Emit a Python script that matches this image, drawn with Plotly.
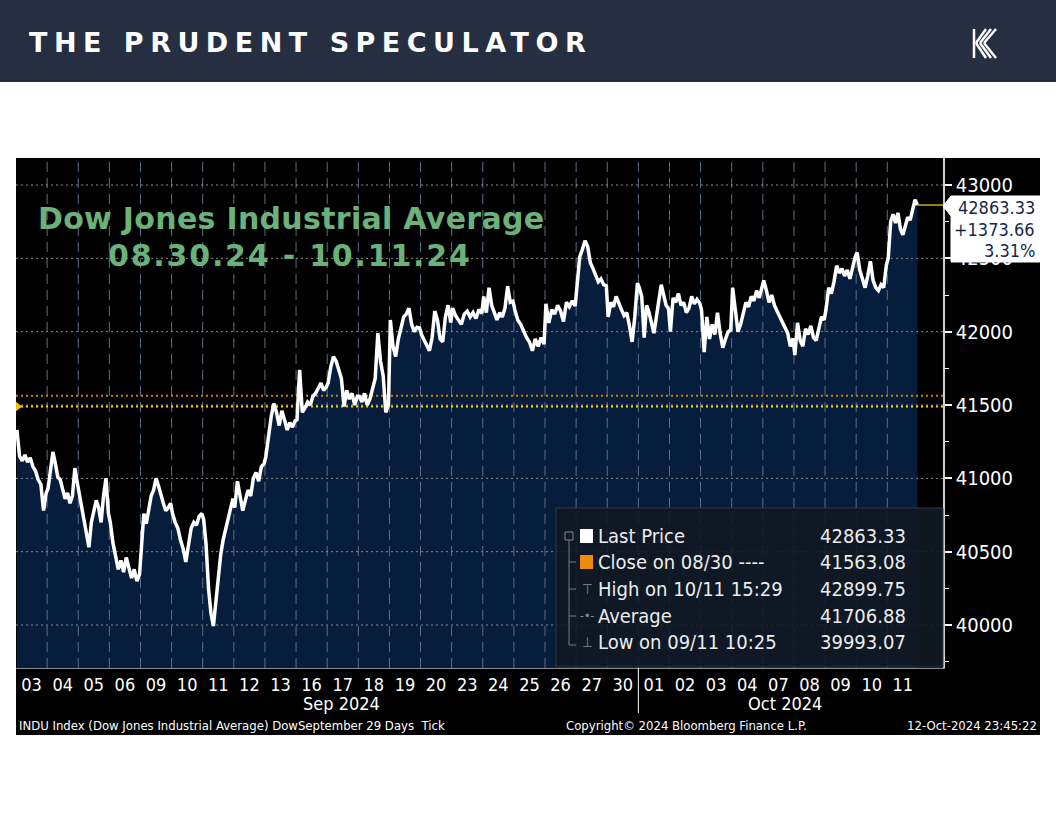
import plotly.graph_objects as go

W, H = 1056, 816

# ---------------- data ----------------
days = ["03", "04", "05", "06", "09", "10", "11", "12", "13", "16", "17", "18", "19", "20",
        "23", "24", "25", "26", "27", "30", "01", "02", "03", "04", "07", "08", "09", "10", "11"]
months = ["Sep 2024", "Oct 2024"]

intraday = [
    [41330, 41150, 41120, 41160, 41110, 41140, 41080, 41050, 40990, 40960, 40780, 40900],
    [40930, 41060, 41180, 41100, 41010, 40990, 40920, 40860, 40900, 40830, 40880, 41070, 40970],
    [40900, 40780, 40700, 40600, 40530, 40700, 40780, 40850, 40800, 40700, 40880, 41000, 40760],
    [40700, 40560, 40470, 40380, 40440, 40360, 40460, 40400, 40320, 40380, 40300, 40345],
    [40500, 40760, 40690, 40800, 40880, 40920, 41000, 40950, 40880, 40830, 40780, 40800, 40830],
    [40760, 40700, 40660, 40580, 40520, 40430, 40560, 40660, 40700, 40680, 40740, 40760],
    [40720, 40550, 40250, 40080, 39993.07, 40150, 40330, 40480, 40580, 40650, 40700, 40780, 40861],
    [40800, 40980, 40880, 40780, 40850, 40920, 40880, 41000, 41040, 40980, 41080, 41097],
    [41150, 41300, 41420, 41510, 41450, 41360, 41460, 41400, 41330, 41380, 41350, 41393],
    [41400, 41740, 41450, 41480, 41520, 41500, 41560, 41580, 41620, 41650, 41600, 41622],
    [41650, 41760, 41830, 41800, 41740, 41680, 41490, 41600, 41540, 41580, 41500, 41560],
    [41560, 41520, 41580, 41500, 41540, 41600, 41680, 41990, 41800, 41700, 41450, 41503],
    [42080, 41900, 41830, 41950, 42040, 42100, 42120, 42160, 42050, 42000, 42030, 42025],
    [41980, 41940, 41900, 41870, 41960, 42140, 42080, 41950, 41930, 42100, 42180, 42063],
    [42160, 42110, 42080, 42050, 42120, 42140, 42100, 42130, 42090, 42150, 42125],
    [42240, 42130, 42300, 42180, 42120, 42080, 42130, 42100, 42160, 42310, 42200, 42208],
    [42150, 42080, 42050, 42000, 41960, 41930, 41870, 41950, 41900, 41960, 41915],
    [42190, 42060, 42150, 42120, 42180, 42140, 42070, 42200, 42170, 42210, 42175],
    [42300, 42510, 42560, 42620, 42580, 42470, 42430, 42380, 42340, 42360, 42320, 42313],
    [42100, 42200, 42170, 42240, 42190, 42150, 42110, 42130, 42040, 41930, 42100, 42330],
    [42300, 42240, 41960, 42180, 42130, 42060, 41990, 42100, 42200, 42320, 42250, 42180, 42156],
    [42000, 42230, 42200, 42260, 42180, 42200, 42130, 42160, 42240, 42190, 42220, 42196],
    [42150, 41860, 42100, 41950, 42050, 41980, 42130, 41990, 41890, 41950, 42000, 42011],
    [42300, 42150, 42000, 42050, 42140, 42200, 42170, 42240, 42210, 42280, 42230, 42300],
    [42350, 42280, 42200, 42250, 42180, 42140, 42100, 42060, 42030, 41990, 41900, 41954],
    [41840, 42060, 41940, 41900, 42020, 41980, 42040, 41960, 41940, 42020, 42100, 42080],
    [42150, 42300, 42260, 42340, 42450, 42400, 42430, 42380, 42420, 42360, 42450, 42512],
    [42540, 42420, 42360, 42300, 42380, 42480, 42350, 42300, 42280, 42320, 42300, 42454],
    [42500, 42750, 42800, 42740, 42810, 42700, 42660, 42720, 42780, 42760, 42840, 42899.75, 42863.33],
]

prior_close = 41563.08
change_base = 41489.67
last_price = 42863.33
net_change = 1373.66
pct_change = 3.31
y_ticks = [40000, 40500, 41000, 41500, 42000, 42500, 43000]
y_minor = [39750, 40250, 40750, 41250, 41750, 42250, 42750]
legend_labels = ["Last Price", "Close on 08/30 ----", "High on 10/11 15:29", "Average", "Low on 09/11 10:25"]
legend_values = [42863.33, 41563.08, 42899.75, 41706.88, 39993.07]

# ---------------- helpers ----------------
def px(x):
    return x / W

def py(y):
    return 1 - y / H

COND = "DejaVu Sans Condensed, DejaVu Sans, sans-serif"
Y_MIN, Y_MAX = 39707, 43184
X_END = 29.79

xs, ys = [], []
for k, vals in enumerate(intraday):
    n = len(vals)
    for i, v in enumerate(vals):
        xs.append(k + 0.03 + 0.94 * i / (n - 1))
        ys.append(v)

fig = go.Figure()

# area fill
fig.add_trace(go.Scatter(x=xs, y=ys, mode="lines", fill="tozeroy", fillcolor="#061d3b",
                         line=dict(width=0, color="#061d3b"), hoverinfo="skip", showlegend=False))

# vertical dashed grid (day boundaries)
gx, gy = [], []
for k in range(1, len(days)):
    gx += [k, k, None]
    gy += [Y_MIN, Y_MAX, None]
fig.add_trace(go.Scatter(x=gx, y=gy, mode="lines", line=dict(color="#5d6f8b", width=1, dash="10px,6px"),
                         hoverinfo="skip", showlegend=False))
# horizontal dotted grid
hx, hy = [], []
for t in y_ticks:
    hx += [0, X_END, None]
    hy += [t, t, None]
fig.add_trace(go.Scatter(x=hx, y=hy, mode="lines", line=dict(color="#8c8c8c", width=1, dash="2px,3px"),
                         hoverinfo="skip", showlegend=False))

# reference lines
fig.add_trace(go.Scatter(x=[0, X_END], y=[prior_close, prior_close], mode="lines",
                         line=dict(color="#d47c00", width=2, dash="2px,3px"), hoverinfo="skip", showlegend=False))
fig.add_trace(go.Scatter(x=[0, X_END], y=[change_base, change_base], mode="lines",
                         line=dict(color="#f5d400", width=2, dash="2px,3px"), hoverinfo="skip", showlegend=False))
fig.add_trace(go.Scatter(x=[0.05], y=[change_base], mode="markers",
                         marker=dict(symbol="triangle-right", color="#f2c400", size=9), hoverinfo="skip", showlegend=False))

# price line
fig.add_trace(go.Scatter(x=xs, y=ys, mode="lines", line=dict(color="white", width=3.5),
                         hoverinfo="skip", showlegend=False))
# last price connector
fig.add_trace(go.Scatter(x=[xs[-1], X_END], y=[last_price, last_price], mode="lines",
                         line=dict(color="#d9a521", width=1.5), hoverinfo="skip", showlegend=False))

shapes = []
# header bar
shapes.append(dict(type="rect", xref="paper", yref="paper", x0=0, x1=1, y0=py(82), y1=1,
                   fillcolor="#262e42", line=dict(width=0), layer="below"))
# black chart background
shapes.append(dict(type="rect", xref="paper", yref="paper", x0=px(16), x1=px(1040), y0=py(735), y1=py(158),
                   fillcolor="black", line=dict(width=0), layer="below"))
# logo (approximate K mark)
for i in range(3):
    shapes.append(dict(type="line", xref="paper", yref="paper",
                       x0=px(986 + 5 * i), y0=py(29), x1=px(976 + 4 * i), y1=py(43),
                       line=dict(color="white", width=2.5)))
    shapes.append(dict(type="line", xref="paper", yref="paper",
                       x0=px(976 + 4 * i), y0=py(43), x1=px(986 + 5 * i), y1=py(58),
                       line=dict(color="white", width=2.5)))
shapes.append(dict(type="line", xref="paper", yref="paper", x0=px(974), y0=py(29), x1=px(974), y1=py(58),
                   line=dict(color="white", width=2.5)))

# month separator below axis
shapes.append(dict(type="line", xref="x", yref="paper", x0=20, x1=20, y0=py(668), y1=py(713),
                   line=dict(color="white", width=1)))

# legend box
shapes.append(dict(type="rect", xref="paper", yref="paper", x0=px(556), x1=px(943), y0=py(667), y1=py(508),
                   fillcolor="rgba(17,25,36,0.9)", line=dict(color="#2e3846", width=1), layer="above"))
# tree lines
shapes.append(dict(type="line", xref="paper", yref="paper", x0=px(569), x1=px(569), y0=py(540), y1=py(645),
                   line=dict(color="#7a7a7a", width=1), layer="above"))
for ry in [562, 589, 616, 645]:
    shapes.append(dict(type="line", xref="paper", yref="paper", x0=px(569), x1=px(576), y0=py(ry), y1=py(ry),
                       line=dict(color="#7a7a7a", width=1), layer="above"))
shapes.append(dict(type="rect", xref="paper", yref="paper", x0=px(565), x1=px(573), y0=py(540), y1=py(532),
                   fillcolor="rgba(0,0,0,0)", line=dict(color="#8a8a8a", width=1), layer="above"))
shapes.append(dict(type="rect", xref="paper", yref="paper", x0=px(580), x1=px(593), y0=py(543), y1=py(529),
                   fillcolor="white", line=dict(width=0), layer="above"))
shapes.append(dict(type="rect", xref="paper", yref="paper", x0=px(580), x1=px(593), y0=py(569), y1=py(555),
                   fillcolor="#ee8a0c", line=dict(width=0), layer="above"))

# price box with pointer
pts = [(943, 206), (951, 196), (1040, 196), (1040, 262), (951, 262), (951, 216)]
path = "M " + " L ".join(f"{px(a):.5f},{py(b):.5f}" for a, b in pts) + " Z"
shapes.append(dict(type="path", xref="paper", yref="paper", path=path, fillcolor="white",
                   line=dict(color="white", width=1), layer="above"))

annotations = []
def ann(text, x, y, size, color="white", xanchor="left", family=COND, **kw):
    annotations.append(dict(text=text, x=px(x), y=py(y), xref="paper", yref="paper", showarrow=False,
                            xanchor=xanchor, yanchor="middle", font=dict(size=size, color=color, family=family), **kw))

ann('<b><span style="letter-spacing:6.5px">THE PRUDENT SPECULATOR</span></b>', 27, 42, 27,
    family="DejaVu Sans, sans-serif")
ann('<b><span style="letter-spacing:0.3px">Dow Jones Industrial Average</span></b>', 36, 219, 30,
    color="#6bb27a", family="DejaVu Sans, sans-serif")
ann('<b><span style="letter-spacing:1.8px">08.30.24 - 10.11.24</span></b>', 106, 255, 30,
    color="#6bb27a", family="DejaVu Sans, sans-serif")

rows = [536, 562, 589, 616, 642]
for lab, val, ry in zip(legend_labels, legend_values, rows):
    ann(lab, 596, ry, 20, color="#ececec")
    ann(f"{val:.2f}", 908, ry, 20, color="#ececec", xanchor="right")
ann("⊤", 587, 589, 14, color="#8a8a8a", xanchor="center")
ann("-•-", 587, 616, 12, color="#8a8a8a", xanchor="center")
ann("⊥", 587, 642, 14, color="#8a8a8a", xanchor="center")

ann(f"{last_price:.2f}", 1037, 207, 18, color="#13294b", xanchor="right")
ann(f"+{net_change:.2f}", 1037, 229, 18, color="#13294b", xanchor="right")
ann(f"{pct_change:.2f}%", 1037, 250, 18, color="#13294b", xanchor="right")

ann(months[0], 341, 703, 18, xanchor="center")
ann(months[1], 785, 703, 18, xanchor="center")
ann("INDU Index (Dow Jones Industrial Average) DowSeptember 29 Days  Tick", 17, 725, 13)
ann("Copyright© 2024 Bloomberg Finance L.P.", 564, 725, 13)
ann("12-Oct-2024 23:45:22", 1039, 725, 13, xanchor="right")

fig.update_layout(
    width=W, height=H, margin=dict(l=0, r=0, t=0, b=0),
    paper_bgcolor="white", plot_bgcolor="black",
    shapes=shapes, annotations=annotations, showlegend=False,
    xaxis=dict(domain=[px(16), px(943)], range=[0, X_END], showgrid=False, zeroline=False,
               tickmode="array", tickvals=[k + 0.5 for k in range(len(days))], ticktext=days,
               ticks="", showline=True, linecolor="#8a8a8a", linewidth=1,
               tickfont=dict(size=18, color="white", family=COND), automargin=False, fixedrange=True),
    yaxis=dict(domain=[py(668), py(158)], range=[Y_MIN, Y_MAX], side="right", showgrid=False, zeroline=False,
               tickmode="array", tickvals=y_ticks, ticktext=[str(t) for t in y_ticks],
               ticks="outside", ticklen=7, tickwidth=2, tickcolor="white",
               showline=True, linecolor="#d0d0d0", linewidth=1.5,
               minor=dict(tickvals=y_minor, ticks="outside", ticklen=4, tickcolor="white", tickwidth=1),
               tickfont=dict(size=20, color="white", family=COND), automargin=False, fixedrange=True),
)

fig.write_html("out.html", config={"displayModeBar": False},
               post_script="document.body.style.margin='0px';document.body.style.overflow='hidden';")
